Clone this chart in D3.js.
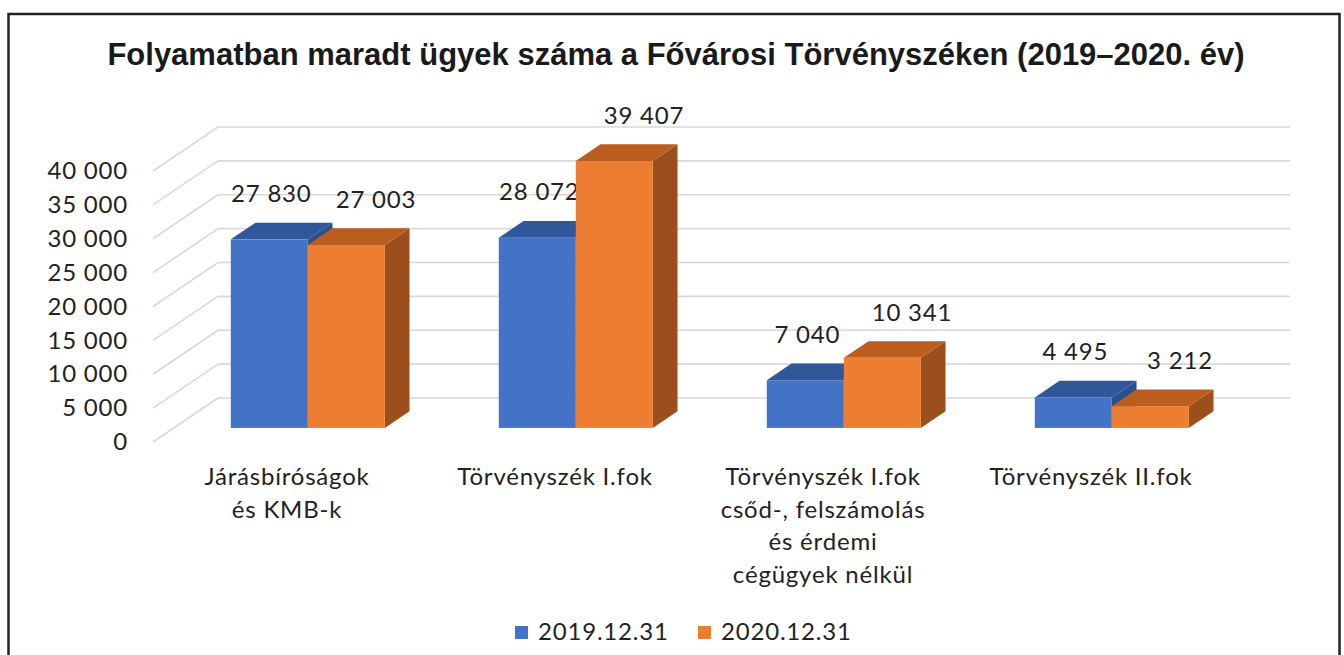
<!DOCTYPE html>
<html>
<head>
<meta charset="utf-8">
<script src="https://cdn.jsdelivr.net/npm/d3@7"></script>
<style>
  body { margin: 0; background: #fff; }
  svg { display: block; }
</style>
</head>
<body>
<div id="chart"></div>
<script>
const title = 'Folyamatban maradt ügyek száma a Fővárosi Törvényszéken (2019–2020. év)';
const categories = ['Járásbíróságok\nés KMB-k', 'Törvényszék I.fok', 'Törvényszék I.fok\ncsőd-, felszámolás\nés érdemi\ncégügyek nélkül', 'Törvényszék II.fok'];
const series = ['2019.12.31', '2020.12.31'];
const values2019 = [27830, 28072, 7040, 4495];
const values2020 = [27003, 39407, 10341, 3212];
const yTicks = [0, 5000, 10000, 15000, 20000, 25000, 30000, 35000, 40000];

const colors = {
  '2019.12.31': {front: '#4472c4', top: '#30579a', side: '#2d4f8a'},
  '2020.12.31': {front: '#ed7d31', top: '#bb5d1f', side: '#9a4f1c'}
};

const width = 1344;
const height = 655;
const font = 'Lato, "Open Sans", sans-serif';
const fontSize = 24;
const spacing = 0.8;

const svg = d3.select('#chart').append('svg')
  .attr('width', width)
  .attr('height', height);

// frame
svg.append('rect')
  .attr('x', 8.5).attr('y', 14)
  .attr('width', 1331).attr('height', 700)
  .attr('fill', '#fff')
  .attr('stroke', '#222')
  .attr('stroke-width', 2.5);

svg.append('text')
  .attr('x', 676).attr('y', 65)
  .attr('text-anchor', 'middle')
  .attr('font-family', '"Liberation Sans", Arial, sans-serif')
  .attr('font-weight', 'bold')
  .attr('font-size', 31)
  .attr('fill', '#1a1a1a')
  .text(title);

// front plane of the plot + depth vector for the oblique 3D look
const x = d3.scaleBand()
  .domain(categories)
  .range([153, 1225]);

const xs = d3.scaleBand()
  .domain(series)
  .range([0, x.bandwidth()])
  .paddingOuter(0.74);

const y = d3.scaleLinear()
  .domain([0, 40000])
  .range([442, 171]);

const depth = {dx: 65, dy: -44};
const barFront = 0.32, barBack = 0.70;
const off = d => [depth.dx * d, depth.dy * d];

const fmt = d3.formatLocale({thousands: ' ', grouping: [3], decimal: ','}).format(',d');

// gridlines: side wall diagonals + back wall lines
const grid = svg.append('g')
  .attr('stroke', '#d9d9d9')
  .attr('stroke-width', 1.6)
  .attr('fill', 'none');

yTicks.forEach(t => {
  const [bx, by] = off(1);
  grid.append('line')
    .attr('x1', x.range()[0]).attr('y1', y(t))
    .attr('x2', x.range()[0] + bx).attr('y2', y(t) + by);
  grid.append('line')
    .attr('x1', x.range()[0] + bx).attr('y1', y(t) + by)
    .attr('x2', x.range()[1] + bx).attr('y2', y(t) + by);
});

// y axis labels
const yAxisG = svg.append('g')
  .attr('transform', 'translate(128, 0)')
  .call(d3.axisLeft(y)
    .tickValues(yTicks)
    .tickFormat(fmt)
    .tickSize(0)
    .tickPadding(0));
yAxisG.select('.domain').remove();
yAxisG.selectAll('text')
  .attr('font-family', font)
  .attr('font-size', fontSize)
  .attr('letter-spacing', spacing)
  .attr('fill', '#222');

// bars
const data = [];
categories.forEach((c, i) => {
  data.push({cat: c, s: series[0], v: values2019[i]});
  data.push({cat: c, s: series[1], v: values2020[i]});
});

const [fx, fy] = off(barFront);
const dd = [depth.dx * (barBack - barFront), depth.dy * (barBack - barFront)];

const bars = svg.append('g');
data.forEach(d => {
  const x0 = x(d.cat) + xs(d.s) + fx;
  const x1 = x0 + xs.bandwidth();
  const yb = y(0) + fy;
  const yt = y(d.v) + fy;
  const c = colors[d.s];
  const g = bars.append('g');
  // right side
  g.append('path')
    .attr('d', `M${x1},${yt}L${x1 + dd[0]},${yt + dd[1]}L${x1 + dd[0]},${yb + dd[1]}L${x1},${yb}Z`)
    .attr('fill', c.side);
  // top
  g.append('path')
    .attr('d', `M${x0},${yt}L${x0 + dd[0]},${yt + dd[1]}L${x1 + dd[0]},${yt + dd[1]}L${x1},${yt}Z`)
    .attr('fill', c.top);
  // front
  g.append('rect')
    .attr('x', x0).attr('y', yt)
    .attr('width', x1 - x0).attr('height', yb - yt)
    .attr('fill', c.front);
  // value label
  const lx = d.s === series[0] ? (x0 + x1) / 2 + 2 : (x0 + x1) / 2 + dd[0] + 5;
  g.append('text')
    .attr('x', lx)
    .attr('y', yt + dd[1] - 29)
    .attr('dy', '0.35em')
    .attr('text-anchor', 'middle')
    .attr('font-family', font)
    .attr('font-size', fontSize)
    .attr('letter-spacing', spacing)
    .attr('fill', '#222')
    .text(fmt(d.v));
});

// category labels
categories.forEach(c => {
  const t = svg.append('text')
    .attr('x', x(c) + x.bandwidth() / 2)
    .attr('y', 485)
    .attr('text-anchor', 'middle')
    .attr('font-family', font)
    .attr('font-size', fontSize)
    .attr('letter-spacing', spacing)
    .attr('fill', '#222');
  c.split('\n').forEach((line, k) => {
    t.append('tspan')
      .attr('x', x(c) + x.bandwidth() / 2)
      .attr('dy', k === 0 ? 0 : 32.5)
      .text(line);
  });
});

// legend
const legend = svg.append('g');
const legendX = [515, 698];
series.forEach((s, i) => {
  legend.append('rect')
    .attr('x', legendX[i]).attr('y', 626)
    .attr('width', 13).attr('height', 13)
    .attr('fill', colors[s].front);
  legend.append('text')
    .attr('x', legendX[i] + 23).attr('y', 640)
    .attr('font-family', font)
    .attr('font-size', fontSize)
    .attr('letter-spacing', spacing)
    .attr('fill', '#222')
    .text(s);
});
</script>
</body>
</html>
